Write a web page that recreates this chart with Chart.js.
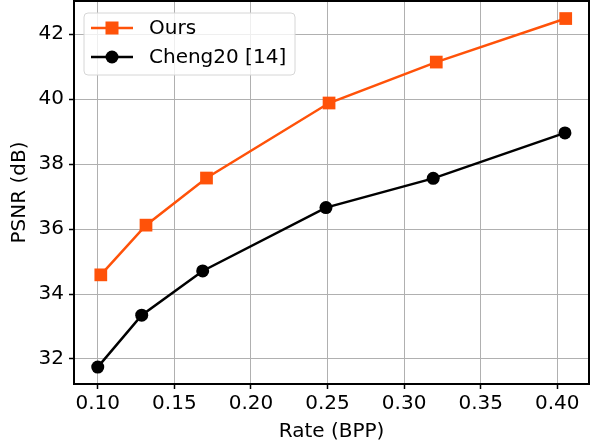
<!DOCTYPE html>
<html>
<head>
<meta charset="utf-8">
<script src="https://cdn.jsdelivr.net/npm/chart.js@4/dist/chart.umd.min.js"></script>
<style>
    html, body { margin: 0; padding: 0; background: #fff; }
    #wrap { width: 592px; height: 444px; }
</style>
</head>
<body>
<div id="wrap"><canvas id="myChart" width="592" height="444"></canvas></div>
<script>
// values
var seriesNames = ['Ours', 'Cheng20 [14]'];
var oursRate = [0.102, 0.1315, 0.171, 0.251, 0.321, 0.4055];
var oursPsnr = [34.59, 36.12, 37.57, 39.88, 41.14, 42.48];
var chengRate = [0.100, 0.1287, 0.1685, 0.249, 0.319, 0.405];
var chengPsnr = [31.75, 33.35, 34.71, 36.66, 37.56, 38.96];
var xTicks = [0.10, 0.15, 0.20, 0.25, 0.30, 0.35, 0.40];
var yTicks = [32, 34, 36, 38, 40, 42];

document.addEventListener('DOMContentLoaded', function() {
    "use strict";

    var orange = '#ff5209';
    var font = "'DejaVu Sans', sans-serif";

    function pairs(xs, ys) {
        return xs.map(function(x, i) { return {x: x, y: ys[i]}; });
    }

    /*frame + legend drawn like matplotlib*/
    var framePlugin = {
        id: 'frame',
        afterDraw: function(chart) {
            var c = chart.ctx, a = chart.chartArea;
            c.save();
            c.strokeStyle = '#000';
            c.lineWidth = 2;
            c.strokeRect(a.left, a.top, a.right - a.left, a.bottom - a.top);

            // legend box
            var bx = 84, by = 13, bw = 211, bh = 62, r = 4;
            c.beginPath();
            c.moveTo(bx + r, by);
            c.arcTo(bx + bw, by, bx + bw, by + bh, r);
            c.arcTo(bx + bw, by + bh, bx, by + bh, r);
            c.arcTo(bx, by + bh, bx, by, r);
            c.arcTo(bx, by, bx + bw, by, r);
            c.closePath();
            c.fillStyle = 'rgba(255,255,255,0.8)';
            c.fill();
            c.strokeStyle = '#d6d6d6';
            c.lineWidth = 1;
            c.stroke();

            var rows = [
                {y: 28, color: orange, style: 'rect'},
                {y: 57, color: '#000', style: 'circle'}
            ];
            rows.forEach(function(row, i) {
                c.strokeStyle = row.color;
                c.lineWidth = 2.5;
                c.beginPath();
                c.moveTo(91, row.y);
                c.lineTo(133, row.y);
                c.stroke();
                c.fillStyle = row.color;
                if (row.style === 'rect') {
                    c.fillRect(112 - 6.5, row.y - 6.5, 13, 13);
                } else {
                    c.beginPath();
                    c.arc(112, row.y, 6.5, 0, Math.PI * 2);
                    c.fill();
                }
                c.fillStyle = '#000';
                c.font = '20px ' + font;
                c.textBaseline = 'middle';
                c.fillText(seriesNames[i], 149, row.y + 1);
            });
            c.restore();
        }
    };

    function noPad(s) {
        s.paddingTop = 0;
        s.paddingBottom = 0;
        s.paddingLeft = 0;
        s.paddingRight = 0;
    }

    var ctx = document.getElementById('myChart').getContext('2d');
    var chart = new Chart(ctx, {
        type: 'line',
        data: {
            datasets: [{
                label: seriesNames[0],
                data: pairs(oursRate, oursPsnr),
                borderColor: orange,
                backgroundColor: orange,
                borderWidth: 2.5,
                pointStyle: 'rect',
                pointRadius: 9,
                pointBorderWidth: 0,
                tension: 0
            },
            {
                label: seriesNames[1],
                data: pairs(chengRate, chengPsnr),
                borderColor: '#000',
                backgroundColor: '#000',
                borderWidth: 2.5,
                pointStyle: 'circle',
                pointRadius: 6.5,
                pointBorderWidth: 0,
                tension: 0
            }]
        },
        options: {
            responsive: false,
            animation: false,
            layout: { autoPadding: false, padding: { top: 1, right: 3, left: 0, bottom: 0 } },
            plugins: {
                legend: { display: false },
                tooltip: { enabled: false }
            },
            scales: {
                x: {
                    type: 'linear',
                    min: 0.0845,
                    max: 0.4207,
                    afterBuildTicks: function(s) { s.ticks = xTicks.map(function(v) { return {value: v}; }); },
                    afterFit: function(s) { s.height = 60; noPad(s); },
                    grid: { color: '#b0b0b0', lineWidth: 1, tickColor: '#000', tickLength: 5, tickWidth: 1.5 },
                    border: { color: '#000', width: 2 },
                    ticks: {
                        color: '#000',
                        font: { family: font, size: 20 },
                        padding: 3,
                        maxRotation: 0,
                        callback: function(v) { return v.toFixed(2); }
                    },
                    title: {
                        display: true,
                        text: 'Rate (BPP)',
                        color: '#000',
                        font: { family: font, size: 20 },
                        padding: { top: 0, bottom: 0 }
                    }
                },
                y: {
                    type: 'linear',
                    min: 31.23,
                    max: 43.02,
                    afterBuildTicks: function(s) { s.ticks = yTicks.map(function(v) { return {value: v}; }); },
                    afterFit: function(s) { s.width = 74; noPad(s); },
                    grid: { color: '#b0b0b0', lineWidth: 1, tickColor: '#000', tickLength: 5, tickWidth: 1.5 },
                    border: { color: '#000', width: 2 },
                    ticks: {
                        color: '#000',
                        font: { family: font, size: 20 },
                        padding: 5
                    },
                    title: {
                        display: true,
                        text: 'PSNR (dB)',
                        color: '#000',
                        font: { family: font, size: 20 },
                        padding: { top: 8, bottom: 4 }
                    }
                }
            }
        },
        plugins: [framePlugin]
    });
});
</script>
</body>
</html>
